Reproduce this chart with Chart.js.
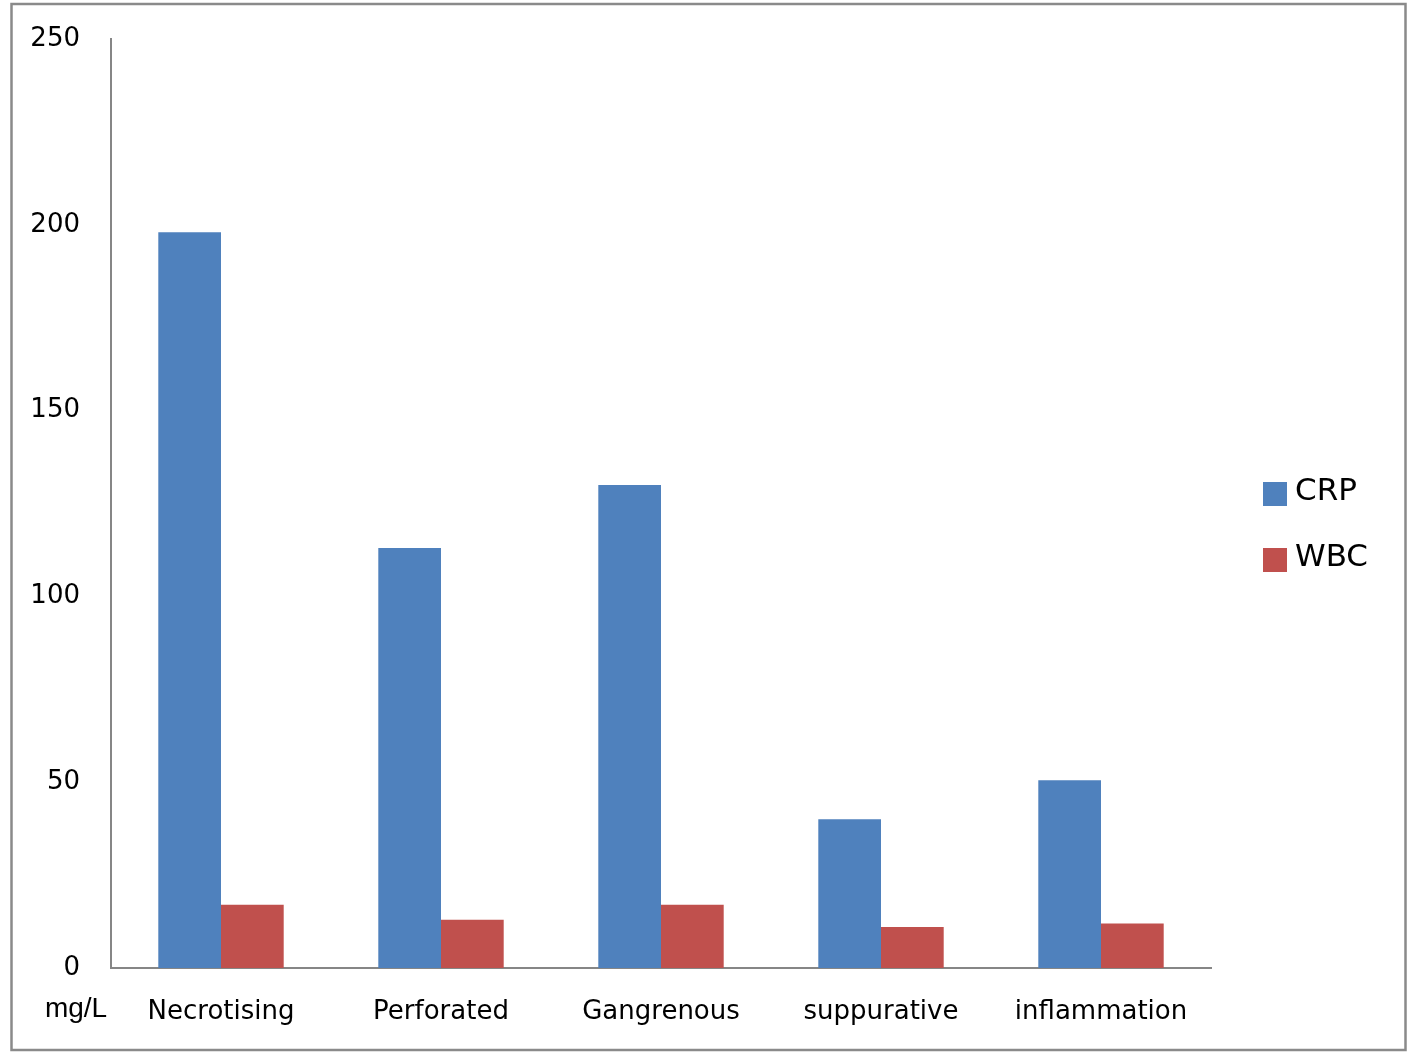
<!DOCTYPE html>
<html>
<head>
<meta charset="utf-8">
<script src="https://cdn.jsdelivr.net/npm/chart.js@4"></script>
<style>
html,body{margin:0;padding:0;background:#fff;}
#wrap{width:1417px;height:1062px;position:relative;}
</style>
</head>
<body>
<div id="wrap"><canvas id="c" width="1417" height="1062"></canvas></div>
<script>
const categories = ['Necrotising', 'Perforated', 'Gangrenous', 'suppurative', 'inflammation'];
const crpValues = [198, 113, 130, 40, 50.5];
const wbcValues = [17, 13, 17, 11, 12];
const seriesNames = ['CRP', 'WBC'];
const seriesColors = ['#4F81BD', '#C0504D'];
const yTicks = [0, 50, 100, 150, 200, 250];
const unitLabel = 'mg/L';

const framePlugin = {
  id: 'frame',
  afterDraw(chart) {
    const ctx = chart.ctx;
    ctx.save();
    // outer frame
    ctx.strokeStyle = '#8a8a8a';
    ctx.lineWidth = 2.5;
    ctx.strokeRect(11.5, 4, 1394, 1046);
    // unit label
    ctx.fillStyle = '#000';
    ctx.font = '28px "Liberation Sans", Arial, sans-serif';
    ctx.textAlign = 'center';
    ctx.textBaseline = 'alphabetic';
    ctx.fillText(unitLabel, 76, 1017);
    // legend
    const ds = chart.data.datasets;
    const rows = [494, 560];
    ctx.font = '31px "DejaVu Sans", sans-serif';
    ctx.textAlign = 'left';
    ctx.textBaseline = 'middle';
    ds.forEach((d, i) => {
      const cy = rows[i];
      ctx.fillStyle = d.backgroundColor;
      ctx.fillRect(1263, cy - 12, 24, 24);
      ctx.fillStyle = '#000';
      ctx.fillText(d.label, 1295, cy - 2);
    });
    ctx.restore();
  }
};

new Chart(document.getElementById('c'), {
  type: 'bar',
  data: {
    labels: categories,
    datasets: [
      { label: seriesNames[0], data: crpValues, backgroundColor: seriesColors[0], borderWidth: 0 },
      { label: seriesNames[1], data: wbcValues, backgroundColor: seriesColors[1], borderWidth: 0 }
    ]
  },
  options: {
    responsive: false,
    animation: false,
    devicePixelRatio: 1,
    layout: { padding: { top: 39, right: 206, left: 0, bottom: 0 } },
    plugins: { legend: { display: false }, tooltip: { enabled: false } },
    datasets: { bar: { categoryPercentage: 0.57, barPercentage: 1.0 } },
    scales: {
      x: {
        grid: { display: false, drawTicks: false },
        border: { display: true, color: '#868686', width: 2 },
        ticks: {
          color: '#000',
          font: { family: '"DejaVu Sans", sans-serif', size: 26 },
          padding: 29,
          maxRotation: 0,
          autoSkip: false
        },
        afterFit(scale) { scale.height = 94; scale.paddingLeft = 0; scale.paddingRight = 0; }
      },
      y: {
        min: 0,
        max: 250,
        grid: { display: false, drawTicks: false },
        border: { display: true, color: '#868686', width: 2 },
        afterBuildTicks(scale) { scale.ticks = yTicks.map(v => ({ value: v })); },
        ticks: {
          color: '#000',
          font: { family: '"DejaVu Sans", sans-serif', size: 26 },
          padding: 31
        },
        afterFit(scale) { scale.width = 111; scale.paddingTop = 0; scale.paddingBottom = 0; }
      }
    }
  },
  plugins: [framePlugin]
});
</script>
</body>
</html>
